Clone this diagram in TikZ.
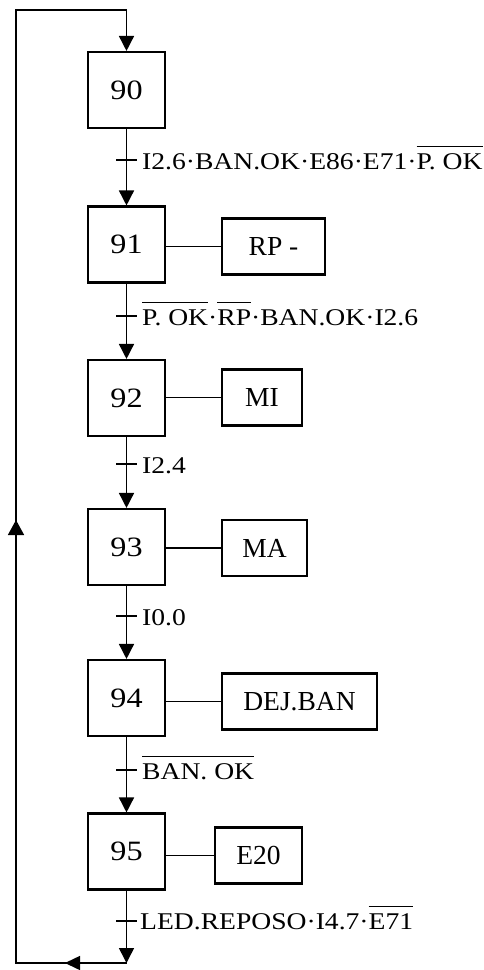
\documentclass[tikz,border=0pt]{standalone}
\usepackage{fontspec}
\setmainfont{Liberation Serif}
\newfontfamily\lblfont{Liberation Serif}[FakeStretch=1.15]
\usetikzlibrary{arrows.meta}
\newsavebox\ovbox
\newcommand{\ovl}[1]{\sbox\ovbox{#1}\rlap{\rule[\dimexpr\ht\ovbox+6pt\relax]{\wd\ovbox}{1.3pt}}\usebox\ovbox}
\tikzset{
  stepbox/.style={draw, line width=2.1pt, minimum width=77pt, minimum height=76pt, inner sep=0pt, font=\fontsize{28}{30}\lblfont},
  actbox/.style={draw, line width=2.1pt, minimum height=56pt, inner sep=0pt, font=\fontsize{27.5}{30}\selectfont},
  lbl/.style={anchor=base west, inner sep=0pt, font=\fontsize{24}{28}\lblfont},
  flow/.style={line width=1.5pt},
  tip/.style={-{Triangle[length=15pt,width=15pt]}}
}
\begin{document}
\begin{tikzpicture}[x=1pt,y=-1pt]
\useasboundingbox (0,0) rectangle (483,970);
% steps
\node[stepbox] (s90) at (126.5,90) {90};
\node[stepbox] (s91) at (126.5,244.5) {91};
\node[stepbox] (s92) at (126.5,398) {92};
\node[stepbox] (s93) at (126.5,547) {93};
\node[stepbox] (s94) at (126.5,698) {94};
\node[stepbox] (s95) at (126.5,851.5) {95};
% actions
\node[actbox, minimum width=103pt] (a91) at (273.5,246.5) {RP -};
\node[actbox, minimum width=80pt] (a92) at (262,397.5) {MI};
\node[actbox, minimum width=85pt] (a93) at (264.5,548) {MA};
\node[actbox, minimum width=155pt] (a94) at (299.5,701.5) {DEJ.BAN};
\node[actbox, minimum width=87pt] (a95) at (258.5,855.5) {E20};
\foreach \s in {91,92,93,94,95}{
  \draw[flow] (a\s.west) -- (a\s.west -| s\s.east);
}
% flow arrows
\draw[flow,tip] (s90) -- (s91);
\draw[flow,tip] (s91) -- (s92);
\draw[flow,tip] (s92) -- (s93);
\draw[flow,tip] (s93) -- (s94);
\draw[flow,tip] (s94) -- (s95);
\coordinate (cend) at (126.5,963);
\draw[flow,tip] (s95) -- (cend);
% transitions
\coordinate (t1) at (126.5,160);
\coordinate (t2) at (126.5,316);
\coordinate (t3) at (126.5,464);
\coordinate (t4) at (126.5,616);
\coordinate (t5) at (126.5,770);
\coordinate (t6) at (126.5,921);
\foreach \t in {t1,t2,t3,t4,t5,t6}{
  \draw[flow] ([xshift=-10.5pt]\t) -- ([xshift=10.5pt]\t);
}
\node[lbl] (l1) at (142,169) {I2.6·BAN.OK·E86·E71·\ovl{P. OK}};
\node[lbl] (l2) at (142,325) {\ovl{P. OK}·\ovl{RP}·BAN.OK·I2.6};
\node[lbl] (l3) at (142,473) {I2.4};
\node[lbl] (l4) at (142,625) {I0.0};
\node[lbl] (l5) at (142,779) {\ovl{BAN. OK}};
\node[lbl] (l6) at (140,929) {LED.REPOSO·I4.7·\ovl{E71}};
% feedback loop
\coordinate (bl) at (16,963);
\coordinate (tl) at (16,10);
\coordinate (tr) at (126.5,10);
\coordinate (la) at (65,963);
\coordinate (ua) at (16,520);
\draw[flow] (cend) -- (bl) -- (tl) -- (tr);
\draw[flow,tip] (tr) -- (s90);
\draw[flow,-{Triangle[length=15pt,width=14pt]}] (cend) -- (la);
\draw[flow,-{Triangle[length=15pt,width=16pt]}] (bl) -- (ua);
\end{tikzpicture}
\end{document}
